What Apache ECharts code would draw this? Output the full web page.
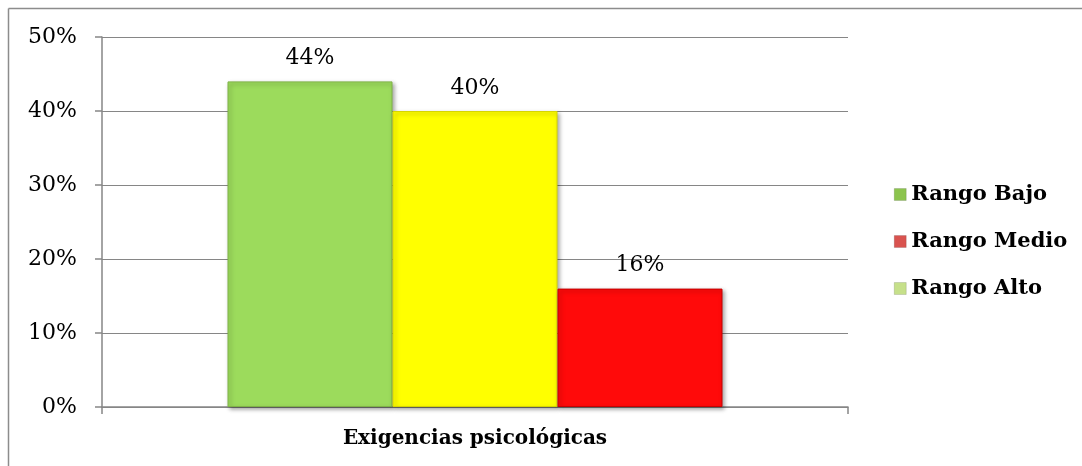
<!DOCTYPE html>
<html>
<head>
<meta charset="utf-8">
<script src="https://cdn.jsdelivr.net/npm/echarts@6/dist/echarts.min.js"></script>
<style>
  html, body { margin: 0; padding: 0; background: #fff; }
  #chart { width: 1082px; height: 466px; }
</style>
</head>
<body>
<div id="chart"></div>
<script>
// Data
const categories = ['Exigencias psicológicas'];
const seriesNames = ['Rango Bajo', 'Rango Medio', 'Rango Alto'];
const valuesBajo = [44];
const valuesMedio = [40];
const valuesAlto = [16];
const yTicks = [0, 10, 20, 30, 40, 50];

// Styling
const barColors = ['#9cdb5c', '#ffff00', '#ff0a0a'];
const barEdges = ['#7fb347', '#d6d600', '#c80000'];
const legendColors = ['#8cc44e', '#d9534f', '#c6e08a'];
const serif = '"DejaVu Serif", "Liberation Serif", serif';

const valueSets = [valuesBajo, valuesMedio, valuesAlto];

const chart = echarts.init(document.getElementById('chart'), null, { renderer: 'canvas' });

const series = seriesNames.map((name, i) => ({
  name: name,
  type: 'bar',
  data: valueSets[i],
  barWidth: 165,
  barGap: '0%',
  itemStyle: {
    color: barColors[i],
    borderColor: barEdges[i],
    borderWidth: 1,
    shadowColor: 'rgba(0,0,0,0.35)',
    shadowBlur: 4,
    shadowOffsetX: 2,
    shadowOffsetY: 2
  },
  label: {
    show: true,
    position: 'top',
    distance: 12,
    formatter: '{c}%',
    fontFamily: serif,
    fontSize: 22,
    color: '#000'
  },
  emphasis: { disabled: true }
}));

// chart frame: top and left edges only, the rest runs off the canvas
const frameStyle = { stroke: '#8c8c8c', lineWidth: 1.5 };

chart.setOption({
  animation: false,
  backgroundColor: '#fff',
  graphic: [
    { type: 'line', shape: { x1: 8.5, y1: 8.5, x2: 1082, y2: 8.5 }, style: frameStyle, silent: true },
    { type: 'line', shape: { x1: 8.5, y1: 8.5, x2: 8.5, y2: 466 }, style: frameStyle, silent: true }
  ],
  grid: { left: 102, right: 234, top: 37, bottom: 59 },
  legend: {
    orient: 'vertical',
    left: 889,
    top: 179,
    itemWidth: 12,
    itemHeight: 12,
    itemGap: 26,
    icon: 'rect',
    textStyle: {
      fontFamily: serif,
      fontWeight: 'bold',
      fontSize: 21,
      lineHeight: 20,
      color: '#000'
    },
    data: seriesNames.map((n, i) => ({
      name: n,
      itemStyle: { color: legendColors[i], borderColor: 'rgba(0,0,0,0.25)', borderWidth: 0.5 }
    })),
    selectedMode: false
  },
  xAxis: {
    type: 'category',
    data: categories,
    axisLine: { lineStyle: { color: '#868686', width: 1.5 } },
    axisTick: { show: true, length: 7, lineStyle: { color: '#868686', width: 1.5 } },
    axisLabel: {
      margin: 22,
      fontFamily: serif,
      fontWeight: 'bold',
      fontSize: 20,
      color: '#000'
    }
  },
  yAxis: {
    type: 'value',
    min: yTicks[0],
    max: yTicks[yTicks.length - 1],
    interval: yTicks[1] - yTicks[0],
    axisLine: { show: true, lineStyle: { color: '#868686', width: 1.5 } },
    axisTick: { show: true, length: 7, lineStyle: { color: '#868686', width: 1.5 } },
    splitLine: { lineStyle: { color: '#868686', width: 1 } },
    axisLabel: {
      margin: 25,
      formatter: '{value}%',
      fontFamily: serif,
      fontSize: 22,
      color: '#000'
    }
  },
  series: series
});
</script>
</body>
</html>
